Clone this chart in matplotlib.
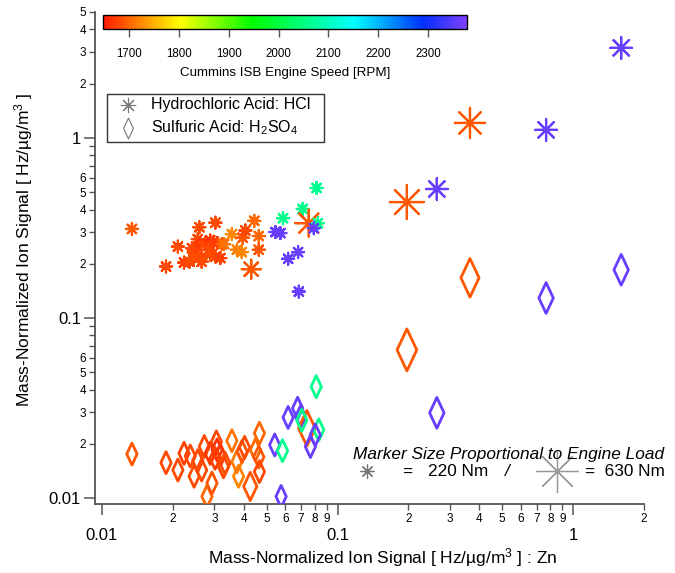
import numpy as np
import matplotlib
matplotlib.use("Agg")
import matplotlib.pyplot as plt
from matplotlib.colors import LinearSegmentedColormap, Normalize
from matplotlib.path import Path
from matplotlib.markers import MarkerStyle
from matplotlib.lines import Line2D
from matplotlib.patches import Rectangle
from matplotlib.ticker import LogLocator, FuncFormatter
import matplotlib.cm as cm

plt.rcParams['font.family'] = ['Liberation Sans', 'DejaVu Sans']
plt.rcParams['mathtext.fontset'] = 'custom'
plt.rcParams['mathtext.rm'] = 'Liberation Sans'
plt.rcParams['mathtext.it'] = 'Liberation Sans:italic'
plt.rcParams['mathtext.default'] = 'regular'

# ---------------- data ----------------
# HCl (asterisks)
hcl_x = [0.0134, 0.0187, 0.0210, 0.0223, 0.0235, 0.0245, 0.0255, 0.0259, 0.0265,
         0.0241, 0.0251, 0.0261, 0.0274, 0.0288, 0.0298, 0.0308, 0.0283, 0.0288,
         0.0303, 0.0318, 0.0265, 0.0245, 0.0323,
         0.0303, 0.0330, 0.0356, 0.0374, 0.0392, 0.0396, 0.0406, 0.0443, 0.0430,
         0.0463, 0.0463,
         0.0545, 0.0572, 0.0587, 0.0711, 0.0755, 0.0825, 0.0793, 0.0617, 0.0680,
         0.0685, 0.0815,
         0.197, 0.264, 0.365, 0.768, 1.60]
hcl_y = [0.312, 0.193, 0.249, 0.203, 0.205, 0.240, 0.274, 0.319, 0.205,
         0.244, 0.229, 0.260, 0.260, 0.269, 0.265, 0.260, 0.239, 0.224,
         0.219, 0.215, 0.219, 0.215, 0.257,
         0.338, 0.257, 0.292, 0.239, 0.232, 0.279, 0.306, 0.346, 0.1865,
         0.285, 0.239,
         0.300, 0.296, 0.358, 0.403, 0.336, 0.336, 0.315, 0.213, 0.232,
         0.140, 0.527,
         0.44, 0.52, 1.21, 1.107, 3.16]
hcl_rpm = [1690, 1680, 1680, 1675, 1680, 1685, 1680, 1680, 1680,
           1680, 1675, 1670, 1680, 1665, 1675, 1670, 1680, 1685,
           1680, 1675, 1680, 1685, 1690,
           1680, 1710, 1720, 1715, 1720, 1690, 1680, 1700, 1690,
           1700, 1690,
           2360, 2360, 2060, 2060, 1690, 2060, 2360, 2360, 2360,
           2360, 2060,
           1690, 2360, 1690, 2360, 2360]
hcl_load = [220] * 31 + [350] + [220] * 2 + [220, 220, 220, 220, 500, 220, 220, 220, 220,
                                             220, 220,
                                             630, 400, 560, 400, 400]

# H2SO4 (diamonds)
so4_x = [0.0134, 0.0187, 0.0210, 0.0223, 0.0237, 0.0246, 0.0255, 0.0265, 0.0272,
         0.0279, 0.0293, 0.0288, 0.0306, 0.0308, 0.0302, 0.0318, 0.0328, 0.0333,
         0.0356, 0.0380, 0.0374, 0.0393, 0.0403, 0.0426, 0.0448, 0.0466, 0.0463,
         0.0466,
         0.0541, 0.0584, 0.0576, 0.0617, 0.0677, 0.0697, 0.0741, 0.0767, 0.0812,
         0.0832, 0.0804, 0.0705,
         0.197, 0.264, 0.365, 0.768, 1.60]
so4_y = [0.01754, 0.0157, 0.0143, 0.0177, 0.0171, 0.0132, 0.0161, 0.0143, 0.0193,
         0.0102, 0.0121, 0.0177, 0.0205, 0.0185, 0.0166, 0.0173, 0.0149, 0.0156,
         0.0208, 0.0132, 0.0159, 0.0181, 0.0191, 0.0116, 0.0185, 0.0229, 0.0169,
         0.0140,
         0.0197, 0.0183, 0.0102, 0.0280, 0.0315, 0.0283, 0.0244, 0.0193, 0.0415,
         0.0239, 0.0224, 0.0270,
         0.0664, 0.0297, 0.167, 0.129, 0.185]
so4_rpm = [1690, 1680, 1680, 1675, 1680, 1685, 1680, 1680, 1680,
           1700, 1690, 1670, 1680, 1665, 1675, 1670, 1680, 1685,
           1710, 1720, 1715, 1690, 1680, 1690, 1700, 1700, 1690,
           1680,
           2360, 2060, 2360, 2360, 2360, 2360, 1690, 2360, 2060,
           2060, 2360, 2060,
           1690, 2360, 1690, 2360, 2360]
so4_load = [220] * 23 + [350] + [220] * 4 + [220, 220, 220, 220, 220, 220, 500, 220, 220,
                                             220, 220, 220,
                                             630, 400, 560, 400, 400]

cbar_ticks = [1700, 1800, 1900, 2000, 2100, 2200, 2300]
rpm_min, rpm_max = 1648, 2378

# ---------------- style ----------------
cmap = LinearSegmentedColormap.from_list(
    'igor_rainbow',
    [(0.0, '#ff1a00'), (0.21, '#ffff00'), (0.41, '#00ff00'),
     (0.69, '#00ffff'), (0.88, '#0030ff'), (1.0, '#8040ff')])
norm = Normalize(rpm_min, rpm_max)

fig = plt.figure(figsize=(6.75, 5.73), dpi=100)
W, H = 675, 573
ax = fig.add_axes([95 / W, 69 / H, (644 - 95) / W, (504 - 12) / H])
ax.set_xscale('log')
ax.set_yscale('log')
ax.set_xlim(0.00934, 2.0)
ax.set_ylim(0.00926, 5.0)

star = MarkerStyle((8, 2, 0))
diamond = MarkerStyle(Path([(0, 1), (0.47, 0), (0, -1), (-0.47, 0), (0, 1)],
                           [Path.MOVETO, Path.LINETO, Path.LINETO, Path.LINETO, Path.CLOSEPOLY]))

def star_size(load):
    d_px = 12 + (np.asarray(load) - 220) / 410 * 22
    return (d_px * 0.72) ** 2

def dia_size(load):
    h_px = 22 + (np.asarray(load) - 220) / 410 * 20
    return (h_px * 0.72) ** 2

hcol = cmap(norm(np.array(hcl_rpm)))
dcol = cmap(norm(np.array(so4_rpm)))
ax.scatter(hcl_x, hcl_y, s=star_size(hcl_load), marker=star, color=hcol,
           linewidths=1.6, zorder=3)
ax.scatter(so4_x, so4_y, s=dia_size(so4_load), marker=diamond, facecolors='none',
           edgecolors=dcol, linewidths=2.0, zorder=3)

# axes styling
for s in ['top', 'right']:
    ax.spines[s].set_visible(False)
for s in ['left', 'bottom']:
    ax.spines[s].set_color('#555555')
    ax.spines[s].set_linewidth(1.3)

ax.xaxis.set_major_locator(LogLocator(base=10, numticks=10))
ax.xaxis.set_minor_locator(LogLocator(base=10, subs=np.arange(2, 10), numticks=20))
ax.yaxis.set_major_locator(LogLocator(base=10, numticks=10))
ax.yaxis.set_minor_locator(LogLocator(base=10, subs=np.arange(2, 10), numticks=20))

def major_fmt(v, pos):
    return '%g' % v

def minor_x(v, pos):
    m = v / 10 ** np.floor(np.log10(v) + 1e-9)
    return '%d' % round(m)

def minor_y(v, pos):
    m = round(v / 10 ** np.floor(np.log10(v) + 1e-9))
    return '%d' % m if m <= 6 else ''

ax.xaxis.set_major_formatter(FuncFormatter(major_fmt))
ax.xaxis.set_minor_formatter(FuncFormatter(minor_x))
ax.yaxis.set_major_formatter(FuncFormatter(major_fmt))
ax.yaxis.set_minor_formatter(FuncFormatter(minor_y))

ax.tick_params(which='major', length=8, width=1.1, color='#555555', labelsize=12)
ax.tick_params(which='minor', length=4.5, width=1.0, color='#555555', labelsize=8.5)
ax.tick_params(axis='x', which='major', pad=9)
ax.tick_params(axis='x', which='minor', pad=2)
ax.tick_params(axis='y', which='major', pad=2)
ax.tick_params(axis='y', which='minor', pad=2)

fig.text(24 / W, 1 - 250 / H, 'Mass-Normalized Ion Signal [ Hz/µg/m$^3$ ]',
         rotation=90, ha='center', va='center', fontsize=12.5)
fig.text(383 / W, 1 - 558 / H, 'Mass-Normalized Ion Signal [ Hz/µg/m$^3$ ] : Zn',
         ha='center', va='center', fontsize=12.5)

# colorbar
cax = fig.add_axes([103.3 / W, 1 - 29 / H, (467 - 103.3) / W, 14 / H])
sm = cm.ScalarMappable(norm=norm, cmap=cmap)
cb = fig.colorbar(sm, cax=cax, orientation='horizontal', ticks=cbar_ticks)
cb.outline.set_linewidth(1.0)
cb.outline.set_edgecolor('black')
cax.xaxis.set_ticks_position('bottom')
cax.tick_params(length=6, width=1.0, color='#555555', labelsize=8.3, pad=8)
fig.text(285 / W, 1 - 73 / H, 'Cummins ISB Engine Speed [RPM]', ha='center',
         va='center', fontsize=9.6)

# legend (manual box)
fig.add_artist(Rectangle((106.7 / W, 1 - 142 / H), 217.3 / W, 48 / H,
                         transform=fig.transFigure, fill=False, edgecolor='#333333',
                         linewidth=1.0))
fig.add_artist(Line2D([128 / W], [1 - 105 / H], marker=star, markersize=11,
                      markeredgecolor='#777777', markeredgewidth=0.8, linestyle='none',
                      transform=fig.transFigure))
fig.add_artist(Line2D([128 / W], [1 - 128 / H], marker=diamond, markersize=15,
                      markeredgecolor='#777777', markerfacecolor='none',
                      markeredgewidth=0.8, linestyle='none', transform=fig.transFigure))
fig.text(151 / W, 1 - 105 / H, 'Hydrochloric Acid: HCl', ha='left', va='center',
         fontsize=11.5)
fig.text(151 / W, 1 - 128 / H, 'Sulfuric Acid: H$_2$SO$_4$', ha='left', va='center',
         fontsize=11.5)

# marker size annotation
fig.text(353 / W, 1 - 455 / H, 'Marker Size Proportional to Engine Load',
         style='italic', ha='left', va='center', fontsize=12.4)
fig.add_artist(Line2D([367 / W], [1 - 471 / H], marker=star, markersize=10,
                      markeredgecolor='#777777', markeredgewidth=0.9, linestyle='none',
                      transform=fig.transFigure))
fig.add_artist(Line2D([557 / W], [1 - 471 / H], marker=star, markersize=31,
                      markeredgecolor='#999999', markeredgewidth=0.9, linestyle='none',
                      transform=fig.transFigure))
fig.text(402 / W, 1 - 472 / H, '=', ha='left', va='center', fontsize=12.4)
fig.text(428 / W, 1 - 472 / H, '220 Nm', ha='left', va='center', fontsize=12.4)
fig.text(505 / W, 1 - 472 / H, '/', ha='left', va='center', fontsize=12.4, style='italic')
fig.text(585 / W, 1 - 472 / H, '=  630 Nm', ha='left', va='center', fontsize=12.4)

fig.savefig('out.png', dpi=100)
